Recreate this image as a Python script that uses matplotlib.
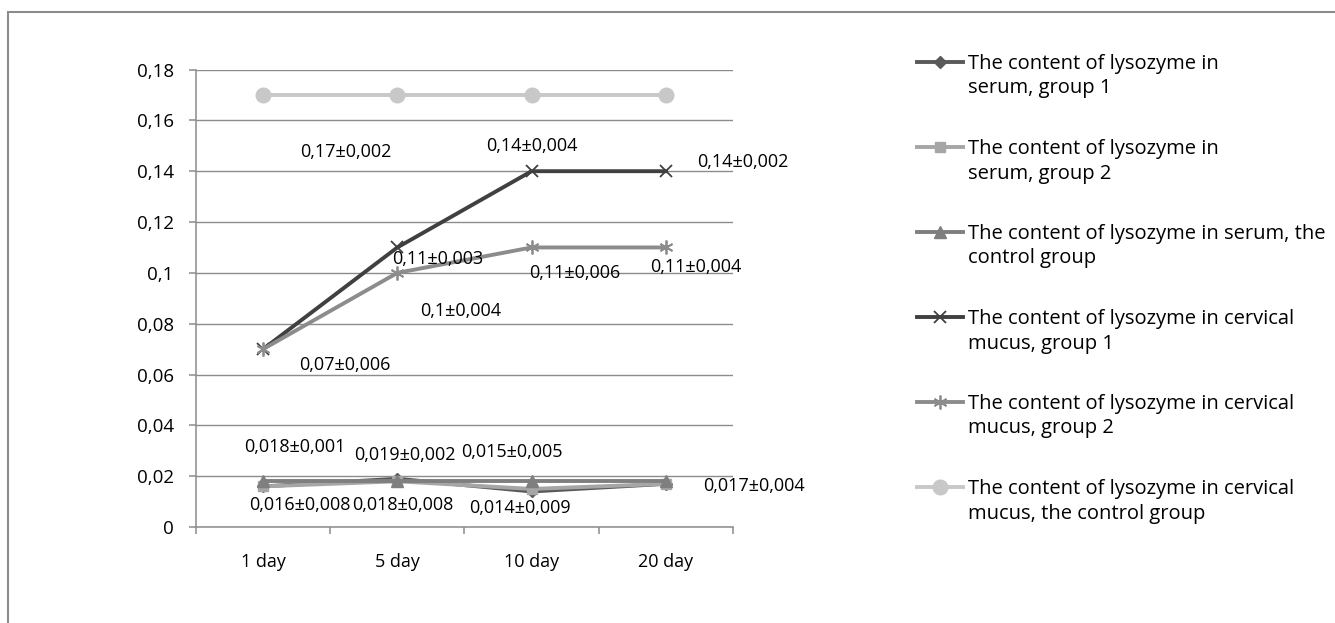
import matplotlib.pyplot as plt
from matplotlib.lines import Line2D
from matplotlib.patches import Rectangle

plt.rcParams['font.family'] = ['Open Sans', 'DejaVu Sans']

days = ['1 day', '5 day', '10 day', '20 day']
yticks = [0, 0.02, 0.04, 0.06, 0.08, 0.1, 0.12, 0.14, 0.16, 0.18]
ytick_labels = ['0', '0,02', '0,04', '0,06', '0,08', '0,1', '0,12', '0,14', '0,16', '0,18']

serum_g1 = [0.016, 0.019, 0.014, 0.017]
serum_g2 = [0.016, 0.018, 0.015, 0.017]
serum_ctrl = [0.018, 0.018, 0.018, 0.018]
mucus_g1 = [0.07, 0.11, 0.14, 0.14]
mucus_g2 = [0.07, 0.10, 0.11, 0.11]
mucus_ctrl = [0.17, 0.17, 0.17, 0.17]

serum_g1_lbl = ['0,016±0,008', '0,019±0,002', '0,014±0,009', '0,017±0,004']
serum_g2_lbl = [None, '0,018±0,008', '0,015±0,005', None]
serum_ctrl_lbl = ['0,018±0,001', None, None, None]
mucus_g1_lbl = ['0,07±0,006', '0,11±0,003', '0,14±0,004', '0,14±0,002']
mucus_g2_lbl = [None, '0,1±0,004', '0,11±0,006', '0,11±0,004']
mucus_ctrl_lbl = ['0,17±0,002', None, None, None]

names = ['The content of lysozyme in\nserum, group 1',
         'The content of lysozyme in\nserum, group 2',
         'The content of lysozyme in serum, the\ncontrol group',
         'The content of lysozyme in cervical\nmucus, group 1',
         'The content of lysozyme in cervical\nmucus, group 2',
         'The content of lysozyme in cervical\nmucus, the control group']

# style + label offsets (pixels, relative to the point)
series = [
    (serum_g1, serum_g1_lbl, dict(color='#595959', marker='D', ms=6.5),
     [(37, -19), (8, 24), (-12, -17), (88, -2)]),
    (serum_g2, serum_g2_lbl, dict(color='#a6a6a6', marker='s', ms=7.5),
     [None, (5, -24), (-20, 37), None]),
    (serum_ctrl, serum_ctrl_lbl, dict(color='#7f7f7f', marker='^', ms=9),
     [(32, 34), None, None, None]),
    (mucus_g1, mucus_g1_lbl, dict(color='#404040', marker='x', ms=9, mew=1.3),
     [(82, -16), (40, -12), (0, 25), (77, 9)]),
    (mucus_g2, mucus_g2_lbl, dict(color='#8c8c8c', marker=(6, 2, 0), ms=10, mew=1.3),
     [None, (63, -38), (43, -26), (30, -20)]),
    (mucus_ctrl, mucus_ctrl_lbl, dict(color='#c8c8c8', marker='o', ms=10.5),
     [(83, -57), None, None, None]),
]

fig = plt.figure(figsize=(13.35, 6.23), dpi=100)
ax = fig.add_axes([0.1468, 0.154, 0.4022, 0.7344])

x = range(len(days))
for vals, lbls, style, offs in series:
    ax.plot(x, vals, lw=2.8, zorder=3, clip_on=False, **style)
    for i, (v, t, o) in enumerate(zip(vals, lbls, offs)):
        if t is None:
            continue
        ax.annotate(t, (i, v), xytext=o, textcoords='offset pixels',
                    ha='center', va='center', fontsize=13, zorder=4)

ax.set_xlim(-0.5, 3.5)
ax.set_ylim(0, 0.18)
ax.set_yticks(yticks)
ax.set_yticklabels(ytick_labels, fontsize=13.5)
ax.set_xticks(list(x))
ax.set_xticklabels(days, fontsize=13)
ax.set_xticks([-0.5, 0.5, 1.5, 2.5, 3.5], minor=True)
ax.tick_params(axis='x', which='major', length=0, pad=19)
ax.tick_params(axis='x', which='minor', length=5, color='#8c8c8c', width=1.1)
ax.tick_params(axis='y', length=5, color='#8c8c8c', width=1.1, pad=11)
ax.grid(axis='y', color='#8c8c8c', lw=1.0)
ax.set_axisbelow(True)
for s in ['top', 'right']:
    ax.spines[s].set_visible(False)
for s in ['left', 'bottom']:
    ax.spines[s].set_color('#8c8c8c')
    ax.spines[s].set_linewidth(1.1)

# legend drawn by hand so the key lines up with the first text line
W, H = 1335, 623
for k, ((vals, lbls, style, offs), name) in enumerate(zip(series, names)):
    yc = 62 + 85 * k
    fy = 1 - yc / H
    fig.add_artist(Line2D([917 / W, 963 / W], [fy, fy], transform=fig.transFigure,
                          color=style['color'], lw=2.8))
    fig.add_artist(Line2D([940 / W], [fy], transform=fig.transFigure, lw=0, **style))
    fig.text(968 / W, 1 - (yc - 8) / H, name, ha='left', va='top',
             fontsize=14.5, linespacing=1.3)

fig.add_artist(Rectangle((8 / W, -0.1), 1.2, 1.1 - 12 / H, transform=fig.transFigure,
                         fill=False, edgecolor='#8c8c8c', lw=1.5))

fig.savefig('out.png', dpi=100)
